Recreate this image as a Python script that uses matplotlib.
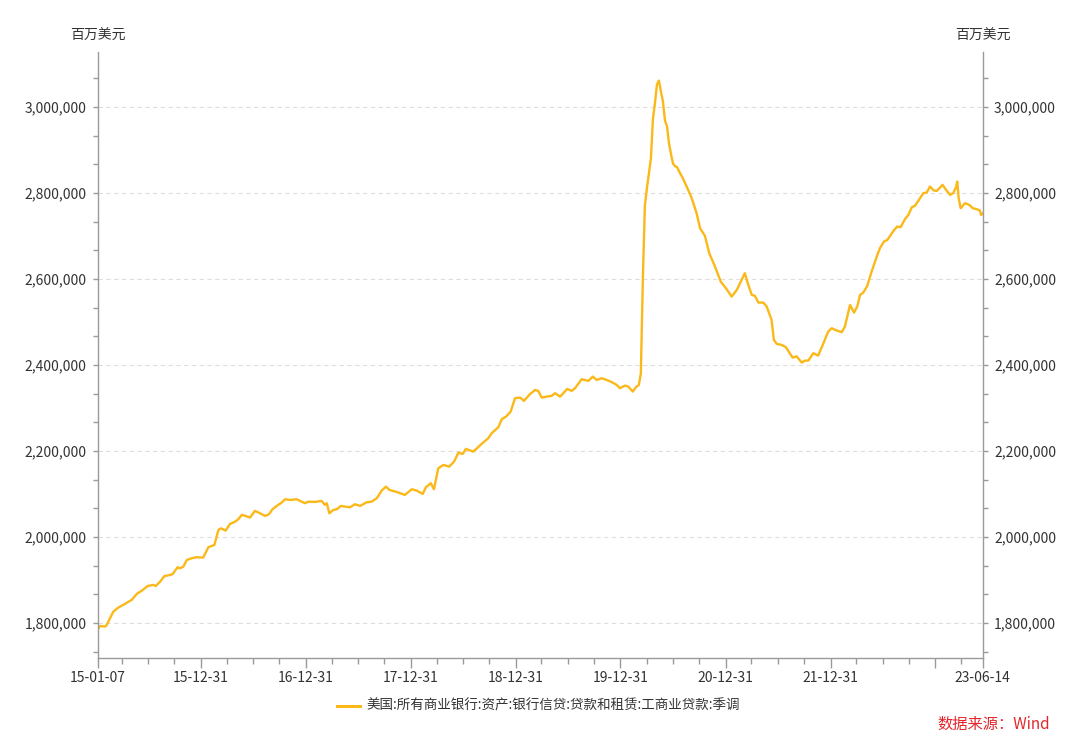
import matplotlib
matplotlib.use('Agg')

import matplotlib.pyplot as plt
import matplotlib.dates as mdates
import matplotlib.ticker as mticker
import pandas as pd
from matplotlib.lines import Line2D

plt.rcParams['font.family'] = ['Noto Sans CJK SC', 'DejaVu Sans']

# values (million USD)
dates = [
    '2015-01-07', '2015-01-15', '2015-02-01', '2015-02-07', '2015-03-02', '2015-03-20',
    '2015-04-06', '2015-04-18', '2015-05-05', '2015-05-23', '2015-06-09', '2015-06-30',
    '2015-07-19', '2015-07-28', '2015-08-12', '2015-08-27', '2015-09-16', '2015-09-25',
    '2015-10-12', '2015-10-20', '2015-11-01', '2015-11-13', '2015-11-30', '2015-12-17',
    '2016-01-09', '2016-01-27', '2016-02-08', '2016-02-17', '2016-03-02', '2016-03-11',
    '2016-03-27', '2016-04-11', '2016-04-29', '2016-05-10', '2016-05-22', '2016-06-05',
    '2016-06-20', '2016-07-07', '2016-07-25', '2016-08-11', '2016-08-25', '2016-09-06',
    '2016-09-21', '2016-10-08', '2016-10-20', '2016-11-06', '2016-11-29', '2016-12-17',
    '2016-12-28', '2017-01-09', '2017-02-01', '2017-02-24', '2017-03-08', '2017-03-14',
    '2017-03-23', '2017-04-06', '2017-04-18', '2017-05-02', '2017-05-17', '2017-06-03',
    '2017-06-20', '2017-07-08', '2017-07-31', '2017-08-17', '2017-09-04', '2017-09-21',
    '2017-10-06', '2017-10-18', '2017-11-12', '2017-12-11', '2018-01-04', '2018-01-21',
    '2018-02-11', '2018-02-22', '2018-03-11', '2018-03-22', '2018-04-06', '2018-04-24',
    '2018-05-14', '2018-05-31', '2018-06-15', '2018-06-30', '2018-07-11', '2018-08-06',
    '2018-09-04', '2018-09-27', '2018-10-09', '2018-11-01', '2018-11-13', '2018-11-28',
    '2018-12-14', '2018-12-29', '2019-01-16', '2019-01-29', '2019-02-19', '2019-03-09',
    '2019-03-20', '2019-04-01', '2019-04-18', '2019-05-06', '2019-05-17', '2019-06-04',
    '2019-06-29', '2019-07-14', '2019-07-26', '2019-08-18', '2019-09-10', '2019-09-26',
    '2019-10-09', '2019-10-27', '2019-11-13', '2019-12-01', '2019-12-18', '2019-12-29',
    '2020-01-16', '2020-01-27', '2020-02-12', '2020-02-23', '2020-03-04', '2020-03-11',
    '2020-03-18', '2020-03-25', '2020-04-01', '2020-04-08', '2020-04-15', '2020-04-22',
    '2020-04-29', '2020-05-06', '2020-05-13', '2020-05-20', '2020-05-27', '2020-06-03',
    '2020-06-10', '2020-06-17', '2020-06-24', '2020-07-01', '2020-07-08', '2020-07-15',
    '2020-07-22', '2020-08-04', '2020-08-20', '2020-09-04', '2020-09-21', '2020-10-03',
    '2020-10-20', '2020-11-04', '2020-11-24', '2020-12-14', '2021-01-01', '2021-01-21',
    '2021-02-08', '2021-02-25', '2021-03-08', '2021-03-20', '2021-04-01', '2021-04-12',
    '2021-04-24', '2021-05-11', '2021-05-23', '2021-06-09', '2021-06-17', '2021-06-27',
    '2021-07-14', '2021-07-29', '2021-08-21', '2021-09-04', '2021-09-22', '2021-10-03',
    '2021-10-15', '2021-11-01', '2021-11-18', '2021-12-04', '2021-12-23', '2022-01-04',
    '2022-01-16', '2022-02-08', '2022-02-19', '2022-03-09', '2022-03-23', '2022-04-03',
    '2022-04-13', '2022-04-24', '2022-05-08', '2022-05-23', '2022-06-10', '2022-06-21',
    '2022-07-05', '2022-07-17', '2022-08-07', '2022-08-20', '2022-09-01', '2022-09-16',
    '2022-09-28', '2022-10-10', '2022-10-21', '2022-11-05', '2022-11-19', '2022-12-01',
    '2022-12-12', '2022-12-26', '2023-01-05', '2023-01-25', '2023-02-06', '2023-02-20',
    '2023-03-03', '2023-03-13', '2023-03-17', '2023-03-22', '2023-03-29', '2023-04-13',
    '2023-04-28', '2023-05-10', '2023-05-24', '2023-06-04', '2023-06-08', '2023-06-14',
]
loans = [
    1785000, 1793000, 1791500, 1795000, 1826000, 1836000,
    1842000, 1847000, 1853500, 1867500, 1875000, 1886000,
    1888400, 1886000, 1896000, 1909000, 1911600, 1914000,
    1929500, 1927000, 1931000, 1946500, 1950500, 1952800,
    1952000, 1976000, 1979000, 1981400, 2016300, 2020000,
    2014700, 2030000, 2035600, 2041000, 2051200, 2048800,
    2045000, 2060500, 2055000, 2048800, 2052700, 2064400,
    2072100, 2079800, 2087600, 2086000, 2087600, 2082000,
    2078400, 2082000, 2081400, 2083700, 2074400, 2078400,
    2055000, 2062800, 2064400, 2072100, 2070500, 2069000,
    2076000, 2072100, 2080700, 2082000, 2090000, 2107700,
    2117000, 2109300, 2104600, 2097700, 2110900, 2107700,
    2100000, 2115600, 2124900, 2110900, 2159700, 2167400,
    2163600, 2175000, 2196000, 2193000, 2204700, 2198400,
    2216300, 2229500, 2241200, 2255000, 2273700, 2279800,
    2291400, 2322500, 2324000, 2316300, 2331800, 2341900,
    2339500, 2324000, 2326300, 2328000, 2334200, 2326300,
    2344200, 2339500, 2345800, 2366700, 2362800, 2372800,
    2365100, 2369000, 2365100, 2359800, 2353500, 2345800,
    2352000, 2349500, 2338000, 2348000, 2353500, 2380000,
    2600000, 2770000, 2810000, 2845000, 2880000, 2972000,
    3008000, 3052000, 3061000, 3035000, 3012000, 2968000,
    2955000, 2915000, 2890000, 2868000, 2862000, 2860000,
    2850000, 2834200, 2810900, 2787700, 2752800, 2717900,
    2700000, 2659800, 2628600, 2593700, 2578400, 2558900,
    2574400, 2597700, 2613300, 2586000, 2562800, 2560500,
    2544900, 2544900, 2535600, 2504600, 2458100, 2448800,
    2446500, 2441100, 2416900, 2420000, 2405300, 2410000,
    2410000, 2427200, 2421600, 2446500, 2477500, 2485300,
    2481400, 2476000, 2489000, 2539500, 2521600, 2535600,
    2562800, 2568100, 2583700, 2616900, 2651900, 2671400,
    2686800, 2690700, 2711600, 2721600, 2720200, 2738800,
    2748800, 2766700, 2769800, 2785300, 2799300, 2800800,
    2814700, 2805300, 2804700, 2818600, 2807000, 2795300,
    2799300, 2813300, 2826300, 2787700, 2764400, 2776000,
    2772100, 2764400, 2762000, 2758800, 2748800, 2752000,
]

major_dates = ['2015-01-07', '2015-12-31', '2016-12-31', '2017-12-31', '2018-12-31',
               '2019-12-31', '2020-12-31', '2021-12-31', '2022-12-31', '2023-06-14']
major_labels = ['15-01-07', '15-12-31', '16-12-31', '17-12-31', '18-12-31',
                '19-12-31', '20-12-31', '21-12-31', '', '23-06-14']
minor_dates = [f'{y}-{md}' for y in range(2015, 2024) for md in ['03-31', '06-30', '09-30']]
minor_dates = [d for d in minor_dates if d < '2023-06-14']

legend_label = '美国:所有商业银行:资产:银行信贷:贷款和租赁:工商业贷款:季调'
unit = '百万美元'
source = '数据来源：Wind'

line_color = '#FBB819'
axis_color = '#9a9a9a'
text_color = '#333333'

fig = plt.figure(figsize=(10.8, 7.44), dpi=100)
ax = fig.add_axes([0.0905, 0.1153, 0.8195, 0.8145])

x = pd.to_datetime(dates)
ax.plot(x, loans, color=line_color, lw=1.7, solid_joinstyle='round')

ax.set_xlim(pd.Timestamp('2015-01-07'), pd.Timestamp('2023-06-14'))
ax.set_ylim(1718000, 3127000)

ax.xaxis.set_major_locator(mticker.FixedLocator(mdates.date2num(pd.to_datetime(major_dates))))
ax.xaxis.set_major_formatter(mticker.FixedFormatter(major_labels))
ax.xaxis.set_minor_locator(mticker.FixedLocator(mdates.date2num(pd.to_datetime(minor_dates))))

ax.yaxis.set_major_locator(mticker.MultipleLocator(200000))
ax.yaxis.set_minor_locator(mticker.MultipleLocator(200000 / 3))
ax.yaxis.set_major_formatter(mticker.FuncFormatter(lambda v, p: f'{int(round(v)):,}'))

ax.grid(axis='y', which='major', color='#dedede', lw=0.8, linestyle=(0, (4, 3)))
ax.set_axisbelow(True)

for s in ['left', 'right', 'bottom']:
    ax.spines[s].set_color(axis_color)
    ax.spines[s].set_linewidth(1.0)
ax.spines['top'].set_visible(False)

ax.tick_params(axis='x', which='major', length=7.2, width=1, color=axis_color,
               labelsize=10, labelcolor=text_color, pad=2)
ax.tick_params(axis='x', which='minor', length=4.1, width=1, color=axis_color)
ax.tick_params(axis='y', which='both', length=3.6, width=1, color=axis_color,
               left=True, right=True, labelleft=True, labelright=True)
ax.tick_params(axis='y', which='major', labelsize=10, labelcolor=text_color, pad=4.5)

fig.text(97.7 / 1080, 1 - 36 / 744, unit, ha='center', va='center', fontsize=10, color=text_color)
fig.text(982.8 / 1080, 1 - 36 / 744, unit, ha='center', va='center', fontsize=10, color=text_color)

# legend
fig.add_artist(Line2D([337 / 1080, 360 / 1080], [1 - 706 / 744, 1 - 706 / 744],
                      color=line_color, lw=2.2))
fig.text(366 / 1080, 1 - 706 / 744, legend_label, ha='left', va='center',
         fontsize=9.75, color=text_color)

fig.text(1050 / 1080, 1 - 724 / 744, source, ha='right', va='center',
         fontsize=11, color='#E3262B')

fig.savefig('out.png', dpi=100)
